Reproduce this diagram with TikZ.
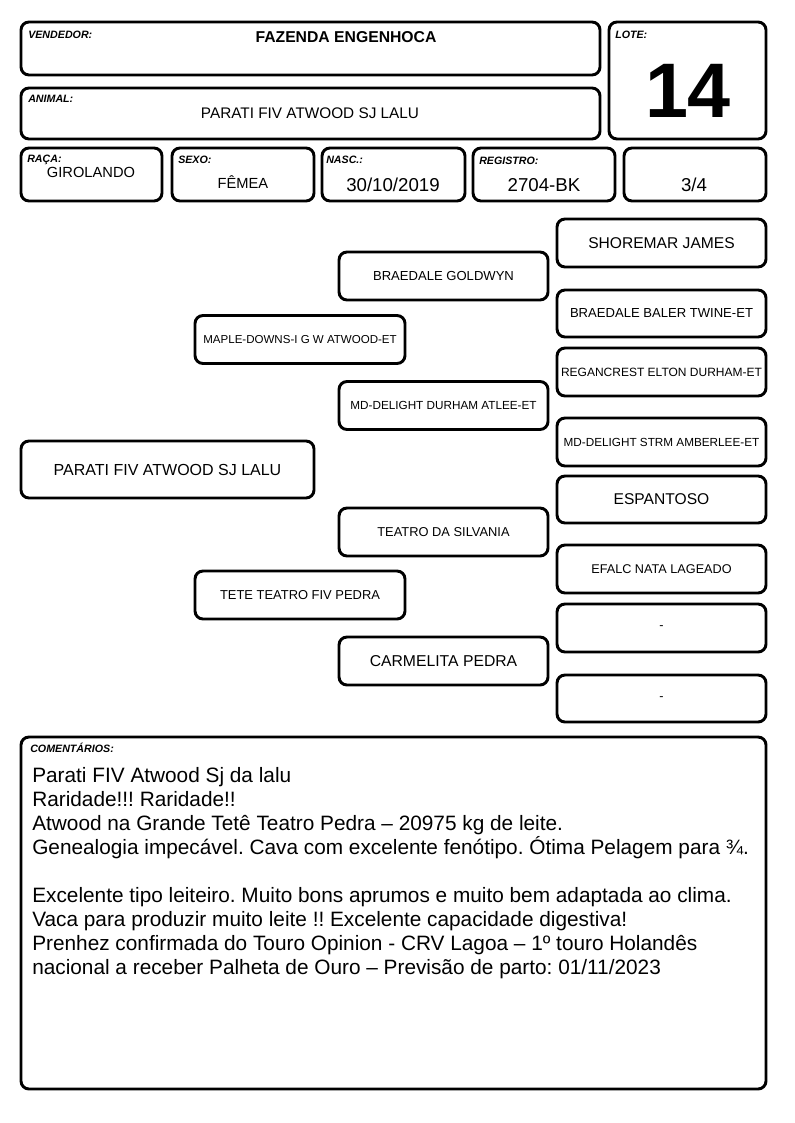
\documentclass[tikz,border=0pt]{standalone}
\usepackage{fontspec}
\setmainfont{Liberation Sans}
\usetikzlibrary{fit}
\newcommand{\fsz}[1]{\fontsize{#1}{#1}\selectfont}

\begin{document}
\begin{tikzpicture}[x=0.75pt,y=-0.75pt,
  cell/.style={draw,line width=2.2pt,rounded corners=6pt,inner sep=0pt,font=\fsz{11.7pt}},
  pbox/.style={cell,minimum width=156.75pt,minimum height=36pt},
  tag/.style={anchor=base west,inner sep=0pt,font=\fsz{8pt}\bfseries\itshape},
  val/.style={anchor=base,inner sep=0pt,font=\fsz{11.5pt}},
  big/.style={anchor=base,inner sep=0pt,font=\fsz{14pt}}]
\useasboundingbox (0,0) rectangle (794,1123);

% header
\node[cell,fit={(21,22) (600,75)}] (vend) {};
\node[cell,fit={(609,22) (766,139)}] (lote) {};
\node[cell,fit={(21,88) (600,139)}] (anim) {};
\node[cell,fit={(21,148) (162,201)}] (raca) {};
\node[cell,fit={(172,148) (314,201)}] (sexo) {};
\node[cell,fit={(322,148) (465,201)}] (nasc) {};
\node[cell,fit={(473,148) (615,201)}] (regi) {};
\node[cell,fit={(624,148) (766,201)}] (grau) {};

\node[tag] (vendT) at (28,39) {VENDEDOR:};
\node[tag] (loteT) at (615,39) {LOTE:};
\node[tag] (animT) at (28,103) {ANIMAL:};
\node[tag] (racaT) at (27,163) {RAÇA:};
\node[tag] (sexoT) at (178,164) {SEXO:};
\node[tag] (nascT) at (326,164) {NASC.:};
\node[tag] (regiT) at (479,165) {REGISTRO:};

\node[val,font=\fsz{11.8pt}\bfseries] (vendV) at (346,43) {FAZENDA ENGENHOCA};
\node[val,font=\fsz{58pt}\bfseries] (loteV) at (688,118) {14};
\node[val] (animV) at (310,119) {PARATI FIV ATWOOD SJ LALU};
\node[val,font=\fsz{11pt}] (racaV) at (91,178) {GIROLANDO};
\node[val,font=\fsz{11pt}] (sexoV) at (243,189) {FÊMEA};
\node[big] (nascV) at (393,192) {30/10/2019};
\node[big] (regiV) at (544,192) {2704-BK};
\node[big] (grauV) at (694,192) {3/4};

% pedigree
\node[cell,minimum width=219.75pt,minimum height=42.75pt,font=\fsz{12pt}] (a) at (167.5,469.5) {PARATI FIV ATWOOD SJ LALU};

\node[pbox,minimum width=157.5pt,font=\fsz{8.65pt}] (s) at (300,339.5) {MAPLE-DOWNS-I G W ATWOOD-ET};
\node[pbox,minimum width=157.5pt,font=\fsz{9.7pt}] (d) at (300,595) {TETE TEATRO FIV PEDRA};

\node[pbox,font=\fsz{9.8pt}] (ss) at (443.5,276) {BRAEDALE GOLDWYN};
\node[pbox,font=\fsz{8.8pt}] (sd) at (443.5,405.5) {MD-DELIGHT DURHAM ATLEE-ET};
\node[pbox,font=\fsz{9.65pt}] (ds) at (443.5,532) {TEATRO DA SILVANIA};
\node[pbox,font=\fsz{11.8pt}] (dd) at (443.5,661) {CARMELITA PEDRA};

\node[pbox] (sss) at (661.5,243) {SHOREMAR JAMES};
\node[pbox,minimum height=35.25pt,font=\fsz{9.8pt}] (ssd) at (661.5,313.5) {BRAEDALE BALER TWINE-ET};
\node[pbox,font=\fsz{9pt}] (sds) at (661.5,372) {REGANCREST ELTON DURHAM-ET};
\node[pbox,font=\fsz{8.8pt}] (sdd) at (661.5,442) {MD-DELIGHT STRM AMBERLEE-ET};
\node[pbox,minimum height=35.25pt] (dss) at (661.5,499.5) {ESPANTOSO};
\node[pbox,font=\fsz{9.5pt}] (dsd) at (661.5,569) {EFALC NATA LAGEADO};
\node[pbox,font=\fsz{9.5pt}] (dds) at (661.5,628) {-};
\node[pbox,minimum height=35.25pt,font=\fsz{9.5pt}] (ddd) at (661.5,698.5) {-};

% comments
\node[cell,fit={(21,737) (766,1089)}] (com) {};
\node[tag] (comT) at (30,752) {COMENTÁRIOS:};
\node[anchor=north west,inner sep=0pt,align=left,font=\fontsize{15.6pt}{18pt}\selectfont\frenchspacing] (comV) at (32,767) {%
Parati FIV Atwood Sj da lalu\\
Raridade!!! Raridade!!\\
Atwood na Grande Tetê Teatro Pedra – 20975 kg de leite.\\
Genealogia impecável. Cava com excelente fenótipo. Ótima Pelagem para ¾.\\[18pt]
Excelente tipo leiteiro. Muito bons aprumos e muito bem adaptada ao clima.\\
Vaca para produzir muito leite !! Excelente capacidade digestiva!\\
Prenhez confirmada do Touro Opinion - CRV Lagoa – 1º touro Holandês\\
nacional a receber Palheta de Ouro – Previsão de parto: 01/11/2023};

\end{tikzpicture}
\end{document}
